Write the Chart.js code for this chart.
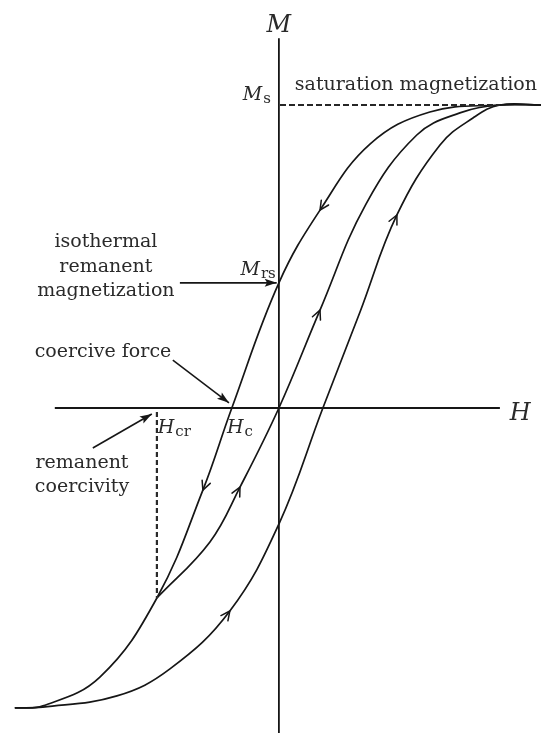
<!DOCTYPE html>
<html><head><meta charset="utf-8">
<script src="https://cdn.jsdelivr.net/npm/chart.js@4/dist/chart.umd.min.js"></script>
<style>html,body{margin:0;padding:0;background:#fff;}canvas{display:block}</style>
</head><body>
<canvas id="c" width="541" height="733"></canvas>
<script>
// ---- data (H and M in normalised units, Ms = 1) ----
const descH = [1.186, 1.0, 0.683, 0.412, 0.186, 0.0, -0.213, -0.344, -0.552, -0.810, -1.068, -1.195];
const descM = [1.0, 1.0, 0.977, 0.871, 0.653, 0.413, 0.0, -0.271, -0.627, -0.888, -0.983, -0.990];
const recoilH = [-0.552, -0.312, -0.176, 0.0, 0.186, 0.394, 0.624, 0.819, 1.0, 1.186];
const recoilM = [-0.627, -0.442, -0.261, 0.0, 0.323, 0.673, 0.901, 0.974, 1.0, 1.0];
const ascH = [-1.195, -1.068, -0.733, -0.493, -0.222, 0.0, 0.199, 0.367, 0.534, 0.729, 0.878, 1.0, 1.186];
const ascM = [-0.990, -0.987, -0.950, -0.861, -0.670, -0.383, 0.0, 0.317, 0.637, 0.868, 0.957, 1.0, 1.0];

const Ms = 1.0;        // saturation magnetization
const Mrs = 0.413;     // isothermal remanent magnetization
const Hc = -0.213;     // coercive force
const Hcr = -0.552;    // remanent coercivity
const McrPoint = -0.627;

// direction arrows on the branches (branch, H)
const arrowBranch = ['desc', 'desc', 'recoil', 'recoil', 'asc', 'asc'];
const arrowH = [0.186, -0.344, 0.186, -0.176, 0.534, -0.222];

// axis extents
const hAxis = [-1.014, 1.0];
const mAxis = [1.22, -1.08];

const X_MIN = -1.262, X_MAX = 1.186, Y_MIN = -1.0726, Y_MAX = 1.3465;

const pts = (xs, ys) => xs.map((x, i) => ({x, y: ys[i]}));
const INK = '#161616';
const TXT = '#2a2a2a';
const SERIF = '"DejaVu Serif", "Liberation Serif", serif';

// text annotations
const labels = [
  {t: 'saturation magnetization', h: 0.072, m: 1.0495, a: 'left'},
  {t: 'isothermal', h: -0.783, m: 0.531, a: 'center'},
  {t: 'remanent', h: -0.783, m: 0.449, a: 'center'},
  {t: 'magnetization', h: -0.783, m: 0.370, a: 'center'},
  {t: 'coercive force', h: -0.796, m: 0.168, a: 'center'},
  {t: 'remanent', h: -0.891, m: -0.198, a: 'center'},
  {t: 'coercivity', h: -0.891, m: -0.277, a: 'center'}
];
const symbols = [
  {main: 'M', sub: '', h: 0.0, m: 1.241, a: 'center', size: 24},
  {main: 'H', sub: '', h: 1.045, m: -0.040, a: 'left', size: 24},
  {main: 'M', sub: 's', h: -0.036, m: 1.017, a: 'right', size: 19},
  {main: 'M', sub: 'rs', h: -0.014, m: 0.439, a: 'right', size: 19},
  {main: 'H', sub: 'cr', h: -0.548, m: -0.083, a: 'left', size: 19},
  {main: 'H', sub: 'c', h: -0.235, m: -0.083, a: 'left', size: 19}
];
// pointer arrows [fromH, fromM, toH, toM]
const pointers = [
  [-0.448, Mrs, -0.010, Mrs],
  [-0.480, 0.158, -0.226, 0.017],
  [-0.842, -0.132, -0.575, -0.020]
];

const lineDs = (label, data, extra) => Object.assign({
  label, data, showLine: true, borderColor: INK, borderWidth: 1.6,
  pointRadius: 0, fill: false, tension: 0, clip: false
}, extra || {});
const curve = {tension: 0.4, borderWidth: 1.7, capBezierPoints: false};

const datasets = [
  lineDs('haxis', [{x: hAxis[0], y: 0}, {x: hAxis[1], y: 0}], {borderWidth: 1.8}),
  lineDs('maxis', [{x: 0, y: mAxis[0]}, {x: 0, y: mAxis[1]}], {borderWidth: 1.8}),
  lineDs('msdash', [{x: 0.005, y: Ms}, {x: 1.0, y: Ms}], {borderDash: [6, 3], borderWidth: 2, borderColor: '#262626'}),
  lineDs('hcrdash', [{x: Hcr, y: -0.013}, {x: Hcr, y: McrPoint}], {borderDash: [5, 3], borderWidth: 2.2, borderColor: '#2a2a2a'}),
  lineDs('desc', pts(descH, descM), curve),
  lineDs('recoil', pts(recoilH, recoilM), curve),
  lineDs('asc', pts(ascH, ascM), curve)
];
pointers.forEach((p, i) => datasets.push(lineDs('ptr' + i, [{x: p[0], y: p[1]}, {x: p[2], y: p[3]}], {borderWidth: 1.6})));

const decor = {
  id: 'decor',
  afterDatasetsDraw(chart) {
    const ctx = chart.ctx;
    const xs = chart.scales.x, ys = chart.scales.y;
    const X = v => xs.getPixelForValue(v), Y = v => ys.getPixelForValue(v);
    ctx.save();
    // chevrons on branches
    ctx.strokeStyle = INK; ctx.lineWidth = 1.5; ctx.lineCap = 'round';
    arrowBranch.forEach((b, k) => {
      const di = chart.data.datasets.findIndex(d => d.label === b);
      const meta = chart.getDatasetMeta(di);
      const data = chart.data.datasets[di].data;
      let best = 0, bd = Infinity;
      data.forEach((p, i) => { const d = Math.abs(p.x - arrowH[k]); if (d < bd) { bd = d; best = i; } });
      const el = meta.data[best];
      let dx = el.cp2x - el.cp1x, dy = el.cp2y - el.cp1y;
      const L = Math.hypot(dx, dy) || 1; dx /= L; dy /= L;
      const len = 10, ang = 0.45;
      ctx.beginPath();
      for (const s of [-1, 1]) {
        const c = Math.cos(ang), sn = Math.sin(ang) * s;
        const bx = -(dx * c - dy * sn), by = -(dx * sn + dy * c);
        ctx.moveTo(el.x, el.y);
        ctx.lineTo(el.x + bx * len, el.y + by * len);
      }
      ctx.stroke();
    });
    // filled heads for pointers
    ctx.fillStyle = INK;
    pointers.forEach(p => {
      const x1 = X(p[0]), y1 = Y(p[1]), x2 = X(p[2]), y2 = Y(p[3]);
      let dx = x2 - x1, dy = y2 - y1; const L = Math.hypot(dx, dy); dx /= L; dy /= L;
      const len = 12, w = 4;
      ctx.beginPath();
      ctx.moveTo(x2, y2);
      ctx.lineTo(x2 - dx * len - dy * w, y2 - dy * len + dx * w);
      ctx.lineTo(x2 - dx * len * 0.8, y2 - dy * len * 0.8);
      ctx.lineTo(x2 - dx * len + dy * w, y2 - dy * len - dx * w);
      ctx.closePath(); ctx.fill();
    });
    // text
    ctx.fillStyle = TXT; ctx.textBaseline = 'alphabetic';
    ctx.font = '19px ' + SERIF;
    labels.forEach(l => { ctx.textAlign = l.a; ctx.fillText(l.t, X(l.h), Y(l.m)); });
    symbols.forEach(s => {
      ctx.font = 'italic ' + s.size + 'px ' + SERIF;
      const mw = ctx.measureText(s.main).width;
      ctx.font = Math.round(s.size * 0.8) + 'px ' + SERIF;
      const sw = s.sub ? ctx.measureText(s.sub).width + 1 : 0;
      const tw = mw + sw;
      let x0 = X(s.h);
      if (s.a === 'center') x0 -= tw / 2; else if (s.a === 'right') x0 -= tw;
      const y0 = Y(s.m);
      ctx.textAlign = 'left';
      ctx.font = 'italic ' + s.size + 'px ' + SERIF;
      ctx.fillText(s.main, x0, y0);
      if (s.sub) {
        ctx.font = Math.round(s.size * 0.8) + 'px ' + SERIF;
        ctx.fillText(s.sub, x0 + mw + 1, y0 + 3);
      }
    });
    ctx.restore();
  }
};

new Chart(document.getElementById('c'), {
  type: 'scatter',
  data: {datasets},
  options: {
    responsive: false, animation: false, events: [],
    layout: {padding: 0},
    plugins: {legend: {display: false}, tooltip: {enabled: false}},
    scales: {
      x: {type: 'linear', min: X_MIN, max: X_MAX, display: false},
      y: {type: 'linear', min: Y_MIN, max: Y_MAX, display: false}
    }
  },
  plugins: [decor]
});
</script>
</body></html>
